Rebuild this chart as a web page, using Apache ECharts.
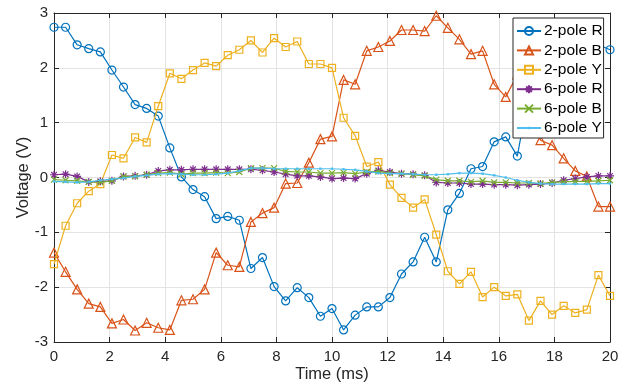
<!DOCTYPE html>
<html><head><meta charset="utf-8">
<script src="https://cdn.jsdelivr.net/npm/echarts@6/dist/echarts.min.js"></script>
<style>html,body{margin:0;padding:0;background:#fff}#c{width:630px;height:385px}</style>
</head><body><div id="c"></div>
<script>
// Sample times (ms)
const time = [0, 0.417, 0.833, 1.25, 1.667, 2.083, 2.5, 2.917, 3.333, 3.75, 4.167, 4.583, 5, 5.417, 5.833, 6.25, 6.667, 7.083, 7.5, 7.917, 8.333, 8.75, 9.167, 9.583, 10, 10.417, 10.833, 11.25, 11.667, 12.083, 12.5, 12.917, 13.333, 13.75, 14.167, 14.583, 15, 15.417, 15.833, 16.25, 16.667, 17.083, 17.5, 17.917, 18.333, 18.75, 19.167, 19.583, 20];

const pole2R = [2.74, 2.74, 2.42, 2.35, 2.29, 1.96, 1.65, 1.33, 1.26, 1.12, 0.54, 0.01, -0.22, -0.35, -0.75, -0.71, -0.78, -1.66, -1.46, -1.99, -2.25, -2.01, -2.19, -2.53, -2.39, -2.78, -2.51, -2.36, -2.36, -2.19, -1.76, -1.54, -1.09, -1.54, -0.59, -0.29, 0.16, 0.20, 0.65, 0.74, 0.39, 1.55, 1.85, 2.10, 2.30, 2.45, 2.50, 2.42, 2.33];
const pole2B = [-1.37, -1.72, -2.04, -2.30, -2.36, -2.66, -2.59, -2.79, -2.65, -2.74, -2.78, -2.24, -2.22, -2.04, -1.37, -1.60, -1.63, -0.81, -0.65, -0.55, -0.11, -0.10, 0.27, 0.70, 0.75, 1.78, 1.70, 2.31, 2.38, 2.49, 2.69, 2.69, 2.67, 2.95, 2.73, 2.52, 2.25, 2.31, 1.70, 1.47, 1.88, 1.30, 0.68, 0.59, 0.35, 0.12, 0.02, -0.53, -0.53];
const pole2Y = [-1.58, -0.88, -0.47, -0.25, -0.12, 0.41, 0.35, 0.73, 0.64, 1.30, 1.90, 1.80, 1.96, 2.09, 2.03, 2.23, 2.33, 2.50, 2.28, 2.54, 2.38, 2.48, 2.07, 2.07, 2.00, 1.09, 0.76, 0.20, 0.28, -0.13, -0.37, -0.55, -0.40, -1.04, -1.71, -1.94, -1.72, -2.18, -2.00, -2.16, -2.13, -2.61, -2.25, -2.50, -2.34, -2.47, -2.41, -1.78, -2.16];
const pole6R = [0.05, 0.06, 0.02, -0.08, -0.07, -0.06, 0.02, 0.03, 0.05, 0.12, 0.14, 0.14, 0.15, 0.15, 0.15, 0.15, 0.15, 0.15, 0.13, 0.10, 0.06, 0.03, 0.03, 0.01, -0.02, -0.01, -0.02, 0.07, 0.13, 0.10, 0.07, 0.06, 0.04, -0.09, -0.10, -0.10, -0.12, -0.12, -0.13, -0.13, -0.14, -0.13, -0.12, -0.10, -0.05, -0.02, 0.01, 0.03, 0.03];
const pole6B = [-0.04, -0.05, -0.06, -0.08, -0.09, -0.06, 0.02, 0.02, 0.05, 0.08, 0.09, 0.06, 0.08, 0.08, 0.09, 0.08, 0.10, 0.17, 0.17, 0.17, 0.11, 0.10, 0.10, 0.08, 0.08, 0.09, 0.07, 0.10, 0.11, 0.08, 0.07, 0.05, 0.03, -0.04, -0.06, -0.06, -0.08, -0.06, -0.09, -0.09, -0.10, -0.10, -0.11, -0.09, -0.08, -0.07, -0.07, -0.06, -0.05];
const pole6Y = [-0.07, -0.08, -0.09, -0.08, -0.05, -0.03, -0.01, 0.02, 0.04, 0.06, 0.07, 0.06, 0.05, 0.05, 0.06, 0.08, 0.12, 0.17, 0.17, 0.16, 0.16, 0.16, 0.16, 0.16, 0.16, 0.15, 0.14, 0.11, 0.08, 0.07, 0.07, 0.06, 0.05, 0.05, 0.06, 0.08, 0.08, 0.07, 0.04, 0.00, -0.05, -0.09, -0.11, -0.12, -0.12, -0.12, -0.12, -0.11, -0.11];

const seriesNames = ['2-pole R', '2-pole B', '2-pole Y', '6-pole R', '6-pole B', '6-pole Y'];
const xTickLabels = ['0', '2', '4', '6', '8', '10', '12', '14', '16', '18', '20'];
const yTickLabels = ['-3', '-2', '-1', '0', '1', '2', '3'];

const seriesValues = [pole2R, pole2B, pole2Y, pole6R, pole6B, pole6Y];
const colors = ['#0072BD', '#D95319', '#EDB120', '#7E2F8E', '#77AC30', '#4DBEEE'];
const asterisk = 'path://M5,0 L5,10 M0,5 L10,5 M1.5,1.5 L8.5,8.5 M1.5,8.5 L8.5,1.5';
const cross = 'path://M0,0 L10,10 M0,10 L10,0';
const dot = 'path://M0,0 M10,10 M3.5,3.5 L6.5,3.5 L6.5,6.5 L3.5,6.5 Z';
const symbols = ['circle', 'triangle', 'rect', asterisk, cross, dot];
const sizes = [8, 9, 7, 8, 6, 8];

const FONT = 'Liberation Sans, Arial, Helvetica, sans-serif';
const TXT = '#262626';

const series = seriesNames.map((name, k) => ({
  name,
  type: 'line',
  data: time.map((t, i) => [t, seriesValues[k][i]]),
  symbol: symbols[k],
  symbolSize: sizes[k],
  showAllSymbol: true,
  animation: false,
  lineStyle: { color: colors[k], width: 1.2 },
  itemStyle: k === 5
    ? { color: colors[k], borderColor: colors[k], borderWidth: 0 }
    : { color: 'rgba(255,255,255,0)', borderColor: colors[k], borderWidth: 1.2 },
  emphasis: { disabled: true },
  z: 2 + k
}));

const chart = echarts.init(document.getElementById('c'));
chart.setOption({
  animation: false,
  backgroundColor: '#ffffff',
  grid: { left: 54, right: 20, top: 13, bottom: 43, containLabel: false, outerBoundsMode: 'none' },
  legend: {
    data: seriesNames,
    orient: 'vertical',
    left: 513, top: 18,
    padding: [5, 1, 2, 3],
    itemWidth: 24, itemHeight: 10, itemGap: 3.4,
    backgroundColor: '#ffffff',
    borderColor: TXT, borderWidth: 1,
    textStyle: { fontFamily: FONT, fontSize: 15.5, color: '#000', padding: [0, 0, 0, -2], lineHeight: 15 },
    z: 20
  },
  xAxis: [{
    type: 'value', min: 0, max: 20, interval: 2,
    name: 'Time (ms)', nameLocation: 'middle', nameGap: 24, nameMoveOverlap: false,
    nameTextStyle: { fontFamily: FONT, fontSize: 16.5, color: TXT },
    axisLine: { show: true, onZero: false, lineStyle: { color: TXT, width: 1 } },
    axisTick: { show: true, inside: true, length: 5, lineStyle: { color: TXT } },
    axisLabel: { fontFamily: FONT, fontSize: 15, color: TXT, margin: 7,
      formatter: v => xTickLabels[Math.round(v / 2)] },
    splitLine: { show: true, lineStyle: { color: '#e3e3e3', width: 1 } }
  }, {
    type: 'value', min: 0, max: 20, interval: 2, position: 'top',
    axisLine: { show: true, onZero: false, lineStyle: { color: TXT, width: 1 } },
    axisTick: { show: true, inside: true, length: 5, lineStyle: { color: TXT } },
    axisLabel: { show: false }, splitLine: { show: false }
  }],
  yAxis: [{
    type: 'value', min: -3, max: 3, interval: 1,
    name: 'Voltage (V)', nameLocation: 'middle', nameGap: 22, nameMoveOverlap: false,
    nameTextStyle: { fontFamily: FONT, fontSize: 16.5, color: TXT },
    axisLine: { show: true, onZero: false, lineStyle: { color: TXT, width: 1 } },
    axisTick: { show: true, inside: true, length: 5, lineStyle: { color: TXT } },
    axisLabel: { fontFamily: FONT, fontSize: 15, color: TXT, margin: 6,
      formatter: v => yTickLabels[Math.round(v + 3)] },
    splitLine: { show: true, lineStyle: { color: '#e3e3e3', width: 1 } }
  }, {
    type: 'value', min: -3, max: 3, interval: 1, position: 'right',
    axisLine: { show: true, onZero: false, lineStyle: { color: TXT, width: 1 } },
    axisTick: { show: true, inside: true, length: 5, lineStyle: { color: TXT } },
    axisLabel: { show: false }, splitLine: { show: false }
  }],
  series
});
</script>
</body></html>
